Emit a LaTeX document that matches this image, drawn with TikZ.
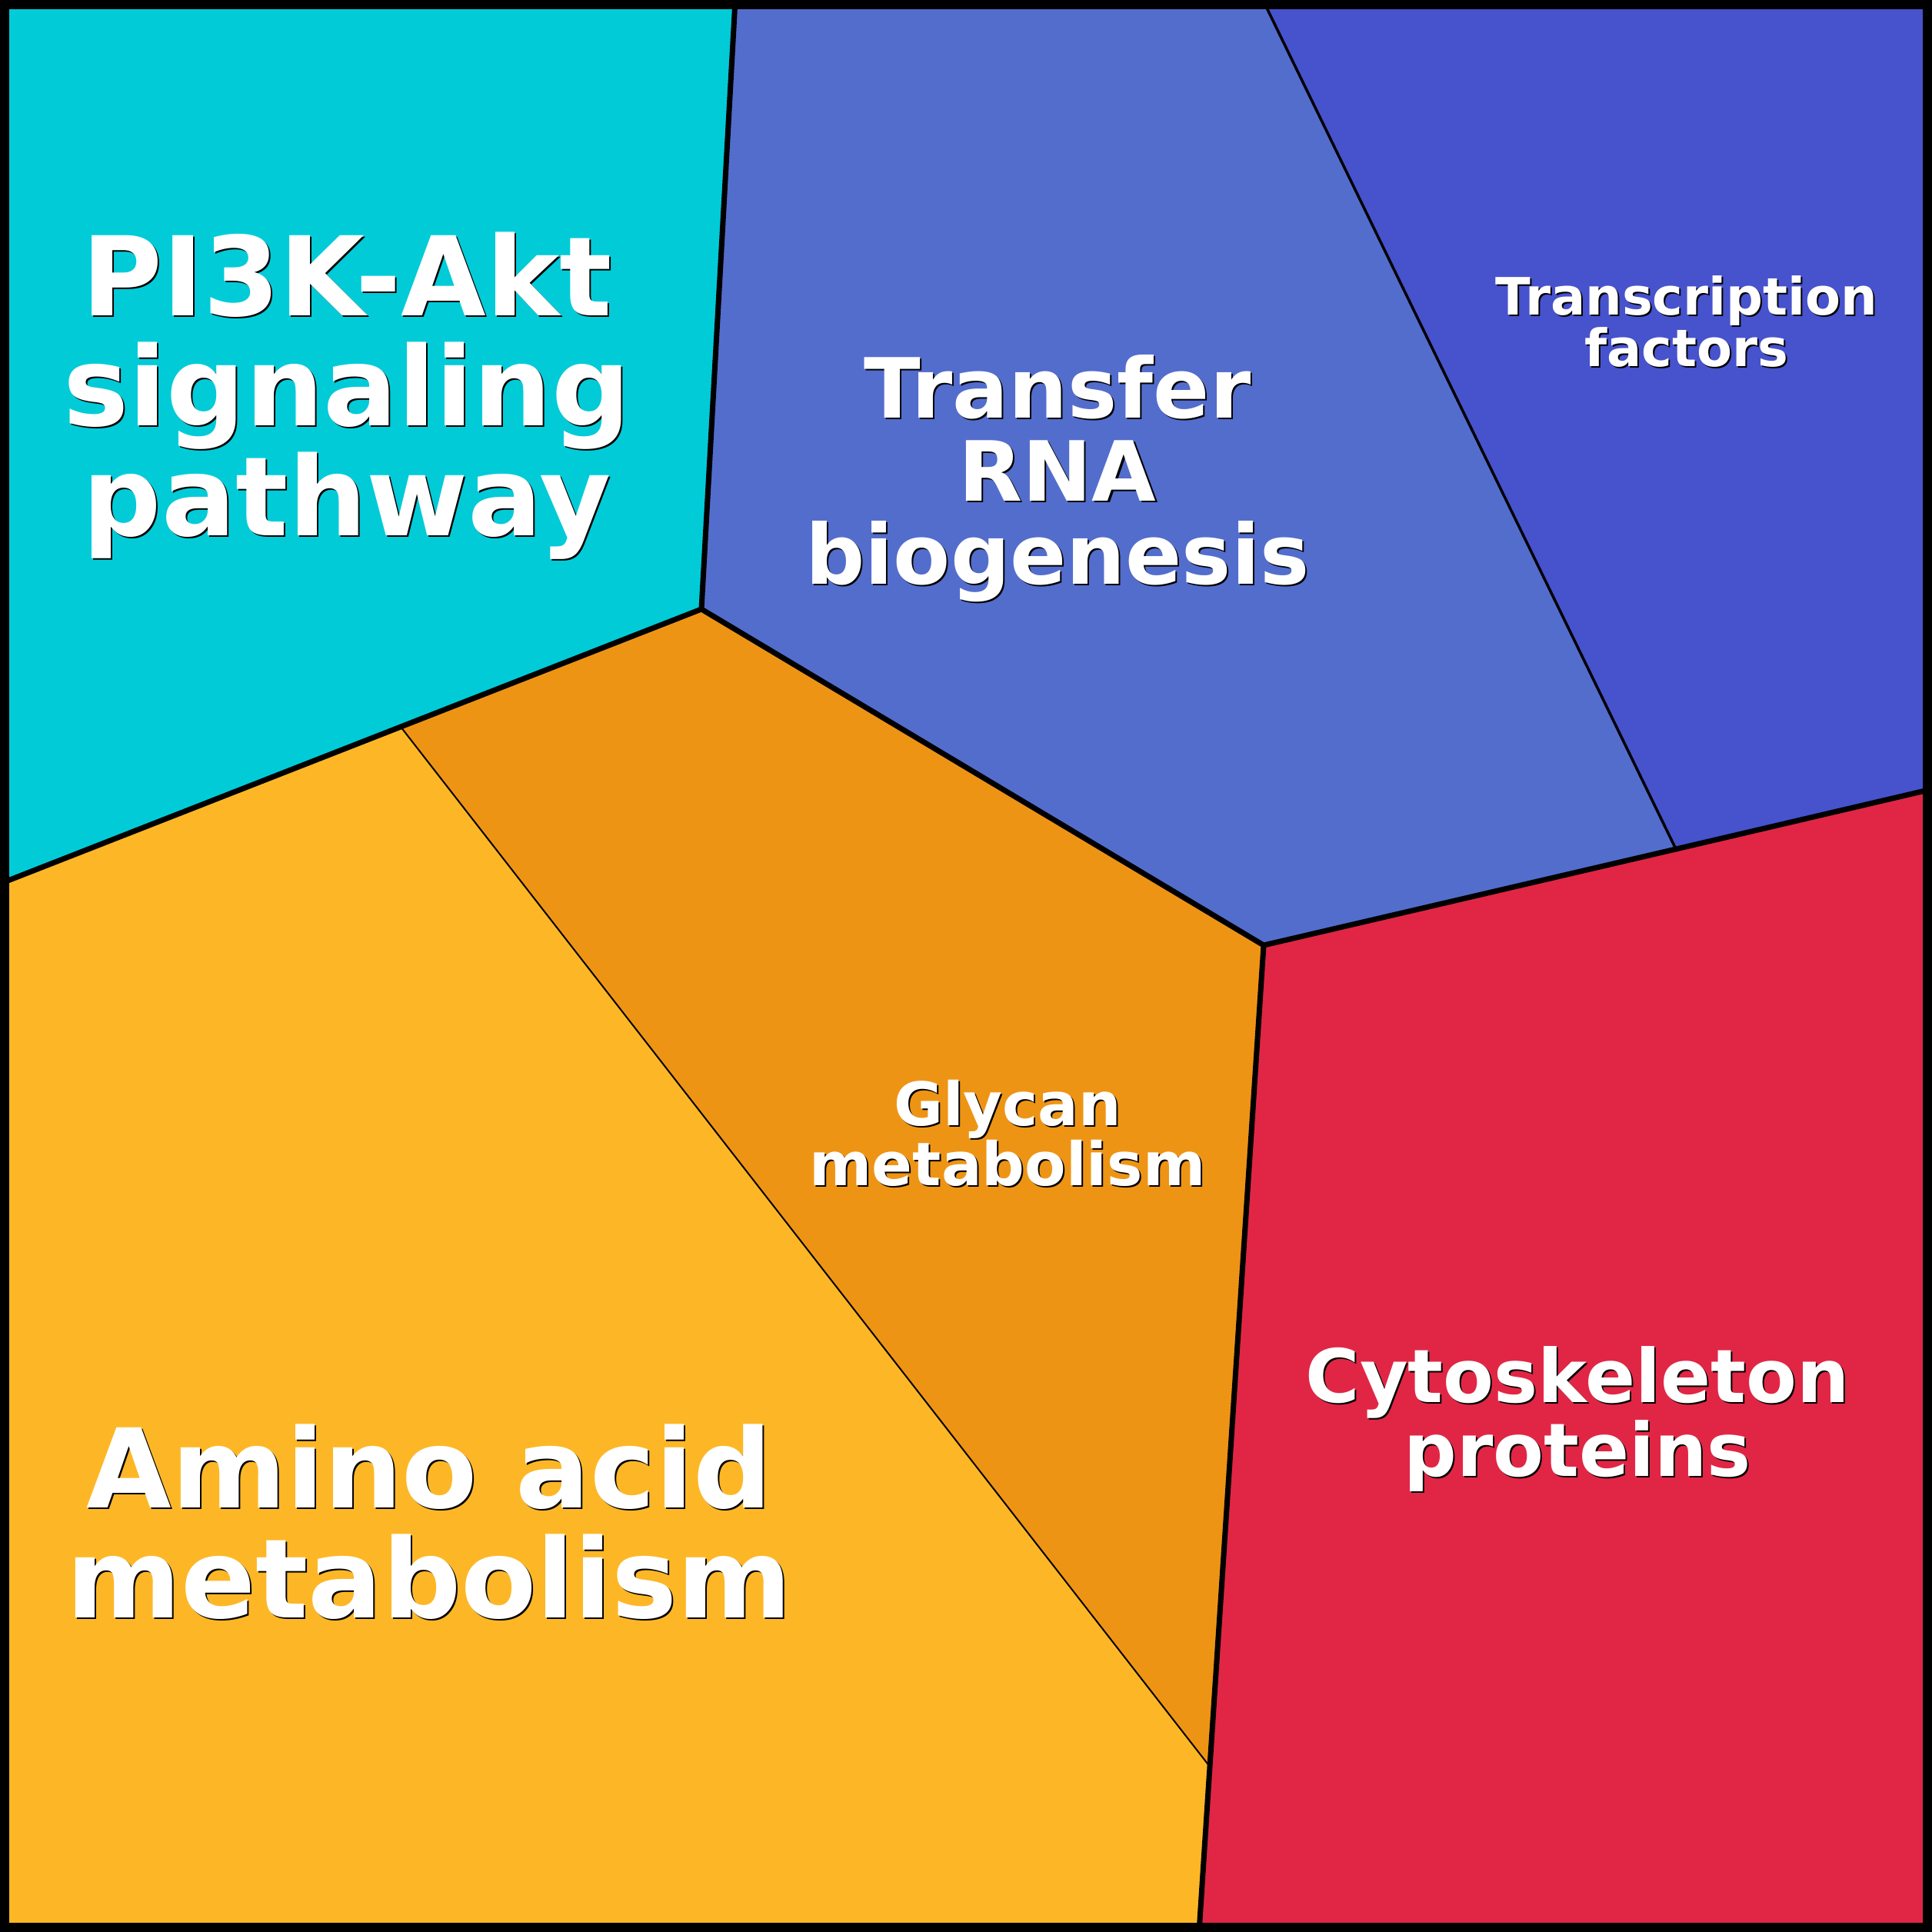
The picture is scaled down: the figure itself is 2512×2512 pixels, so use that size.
\documentclass[tikz,border=0pt]{standalone}
\usepackage{fontspec}
\setmainfont{DejaVu Sans}
\definecolor{cCyan}{RGB}{2,203,216}
\definecolor{cTrna}{RGB}{83,109,205}
\definecolor{cTf}{RGB}{71,82,205}
\definecolor{cOrange}{RGB}{238,148,21}
\definecolor{cYellow}{RGB}{253,183,38}
\definecolor{cRed}{RGB}{225,38,69}
\tikzset{
  thickedge/.style={draw=black, line width=7pt, line join=round},
  thinedge/.style={draw=black, line width=3.5pt},
  hairedge/.style={draw=black, line width=2pt},
  lbltext/.style={inner sep=0pt, align=center, anchor=base}
}
% #2 = position of the baseline of the LAST line
\newcommand\celllabel[4]{%
  \node[lbltext, text=black, font={\fontsize{#3}{#3}\selectfont\bfseries}] (#1s) at ([shift={(2,2)}]#2) {#4};
  \node[lbltext, text=white, font={\fontsize{#3}{#3}\selectfont\bfseries}] (#1) at (#2) {#4};
}
\begin{document}
\begin{tikzpicture}[x=1pt, y=-1pt]
\useasboundingbox (0,0) rectangle (2512,2512);
\coordinate (C0) at (0,0);
\coordinate (C1) at (2512,0);
\coordinate (C2) at (2512,2512);
\coordinate (C3) at (0,2512);
\coordinate (A) at (956,0);
\coordinate (Y1) at (912,792);
\coordinate (L) at (0,1149);
\coordinate (P) at (521,945);
\coordinate (Y2) at (1643,1229);
\coordinate (Q) at (1573,2297);
\coordinate (B) at (1559,2512);
\coordinate (R) at (2179,1104);
\coordinate (T) at (1642,0);
\coordinate (E) at (2512,1026);
% regions
\fill[cCyan] (C0) -- (A) -- (Y1) -- (P) -- (L) -- cycle;
\fill[cTrna] (A) -- (T) -- (R) -- (Y2) -- (Y1) -- cycle;
\fill[cTf] (T) -- (C1) -- (E) -- (R) -- cycle;
\fill[cOrange] (P) -- (Y1) -- (Y2) -- (Q) -- cycle;
\fill[cYellow] (L) -- (P) -- (Q) -- (B) -- (C3) -- cycle;
\fill[cRed] (Y2) -- (E) -- (C2) -- (B) -- cycle;
% edges
\draw[thinedge] (T) -- (R);
\draw[hairedge] (P) -- (Q);
\draw[thickedge] (A) -- (Y1);
\draw[thickedge] (Y1) -- (P) -- (L);
\draw[thickedge] (Y1) -- (Y2);
\draw[thickedge] (Y2) -- (Q) -- (B);
\draw[thickedge] (Y2) -- (R) -- (E);
\draw[line width=12pt] (6,6) rectangle (2506,2506);
% labels
\celllabel{pi3k}{451,696}{143}{PI3K-Akt\\signaling\\pathway}
\celllabel{trna}{1375,759}{108}{Transfer\\RNA\\biogenesis}
\celllabel{tf}{2193,476}{67}{Transcription\\factors}
\celllabel{glycan}{1310,1541}{78}{Glycan\\metabolism}
\celllabel{cyto}{2051,1919}{96}{Cytoskeleton\\proteins}
\celllabel{amino}{558,2103}{143}{Amino acid\\metabolism}
\end{tikzpicture}
\end{document}
